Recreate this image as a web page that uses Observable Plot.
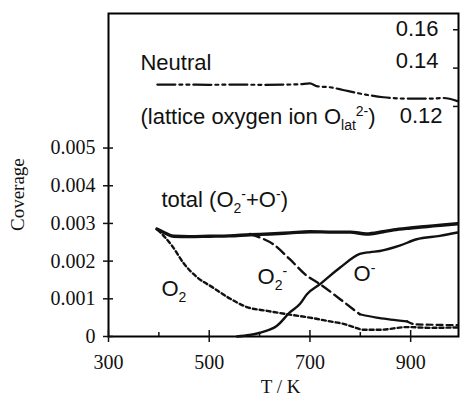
<!DOCTYPE html>
<html>
<head>
<meta charset="utf-8">
<script src="https://cdn.jsdelivr.net/npm/d3@7"></script>
<script src="https://cdn.jsdelivr.net/npm/@observablehq/plot@0.6"></script>
<style>
  html, body { margin: 0; padding: 0; background: #fff; }
</style>
</head>
<body>
<div id="chart"></div>
<script>
// ---- data ----
const totalT = [396, 410, 429, 460, 500, 540, 581, 620, 660, 700, 746, 780, 812, 845, 866, 900, 933, 965, 993];
const totalC = [0.00285, 0.00276, 0.00266, 0.00265, 0.00266, 0.00267, 0.00270, 0.00272, 0.00275, 0.00278, 0.00277, 0.00277, 0.00272, 0.00278, 0.00283, 0.00288, 0.00292, 0.00296, 0.00299];

const o2T = [398, 426, 450, 476, 506, 542, 575, 615, 660, 700, 740, 765, 787, 806, 840, 893, 939, 993];
const o2C = [0.00283, 0.00241, 0.00193, 0.00157, 0.00131, 0.00100, 0.00078, 0.00068, 0.00058, 0.00050, 0.00040, 0.00034, 0.00025, 0.00018, 0.00018, 0.00025, 0.00023, 0.00024];

const o2mT = [581, 600, 627, 660, 694, 720, 760, 799, 832, 860, 893, 910, 950, 993];
const o2mC = [0.00272, 0.00263, 0.00245, 0.00205, 0.00161, 0.00139, 0.00099, 0.00059, 0.00050, 0.00045, 0.00040, 0.00032, 0.00031, 0.00030];

const omT = [555, 580, 601, 620, 634, 660, 680, 694, 720, 760, 799, 820, 839, 878, 912, 958, 993];
const omC = [0.00000, 0.00004, 0.00010, 0.00018, 0.00028, 0.00064, 0.00086, 0.00112, 0.00139, 0.00183, 0.00219, 0.00224, 0.00227, 0.00241, 0.00258, 0.00267, 0.00276];

// Neutral (lattice oxygen) on the right-hand axis
const neutralT = [397, 450, 500, 550, 600, 650, 680, 700, 715, 740, 766, 790, 810, 846, 893, 939, 965, 993];
const neutralR = [0.1314, 0.1314, 0.1313, 0.1314, 0.1313, 0.1314, 0.1316, 0.1320, 0.1305, 0.1300, 0.1286, 0.1272, 0.1262, 0.1248, 0.1241, 0.1241, 0.1244, 0.1228];

const xTicksMajor = [300, 500, 700, 900];
const xTicksMinor = [400, 600, 800];
const xTickLabels = ["300", "500", "700", "900"];
const yTicks = [0, 0.001, 0.002, 0.003, 0.004, 0.005];
const yTickLabels = ["0", "0.001", "0.002", "0.003", "0.004", "0.005"];
const rightTicks = [0.16, 0.14, 0.12];
const rightTickLabels = ["0.16", "0.14", "0.12"];

// annotation labels: text, anchor temperature, anchor coverage
const labelText = ["Neutral", "(lattice oxygen ion O_{lat}^{2-})", "total (O_{2}^{-}+O^{-})", "O_{2}", "O_{2}^{-}", "O^{-}"];
const labelT = [363.5, 363.5, 405, 405, 596, 786.5];
const labelC = [0.00726, 0.00583, 0.00361, 0.00127, 0.00158, 0.00166];

// ---- helpers ----
const RIGHT_FACTOR = 19.66; // right-axis value -> left-axis coverage
const toLeft = r => r / RIGHT_FACTOR;
const zip = (xs, ys) => xs.map((x, i) => ({T: x, c: ys[i]}));

const total = zip(totalT, totalC);
const o2 = zip(o2T, o2C);
const o2m = zip(o2mT, o2mC);
const om = zip(omT, omC);
const neutral = neutralT.map((t, i) => ({T: t, c: toLeft(neutralR[i])}));
const labels = labelText.map((s, i) => ({s, T: labelT[i], c: labelC[i]}));

const SERIF = "Liberation Serif, DejaVu Serif, serif";
const SANS = "Liberation Sans, Arial, sans-serif";

const rightLabelDy = [-1, -7, 10];
const rightLabelDx = [-20, -20, -16];

const marks = [
  Plot.frame({stroke: "black", strokeWidth: 2}),
  // left axis (cross ticks)
  Plot.axisY(yTicks, {anchor: "left", tickSize: 5, tickPadding: 8, strokeWidth: 1.5,
    tickFormat: d => yTickLabels[yTicks.indexOf(d)], fontSize: 20, fontFamily: SERIF, fill: "#111", label: null}),
  Plot.axisY(yTicks, {anchor: "left", tickSize: -5, strokeWidth: 1.5, tickFormat: () => "", label: null}),
  // bottom axis
  Plot.axisX(xTicksMajor, {anchor: "bottom", tickSize: 6, tickPadding: 12, strokeWidth: 1.5,
    tickFormat: d => xTickLabels[xTicksMajor.indexOf(d)], fontSize: 20, fontFamily: SERIF, fill: "#111", label: null}),
  Plot.axisX(xTicksMajor, {anchor: "bottom", tickSize: -6, strokeWidth: 1.5, tickFormat: () => "", label: null}),
  Plot.axisX(xTicksMinor, {anchor: "bottom", tickSize: -4, strokeWidth: 1.5, tickFormat: () => "", label: null}),
  // right axis ticks (inward)
  Plot.axisY(rightTicks.map(toLeft), {anchor: "right", tickSize: -6, strokeWidth: 1.5, tickFormat: () => "", label: null}),
  // axis titles
  Plot.text(["Coverage"], {frameAnchor: "left", rotate: -90, dx: -91, dy: 56, fontSize: 19, fontFamily: SERIF, fill: "#111"}),
  Plot.text(["T / K"], {frameAnchor: "bottom", dx: -3, dy: 56, fontSize: 19, fontFamily: SERIF, fill: "#111"}),
  // curves
  Plot.line(neutral, {x: "T", y: "c", stroke: "#111", strokeWidth: 2.2, strokeDasharray: "18,4,3,4,3,4", curve: "monotone-x"}),
  Plot.line(o2, {x: "T", y: "c", stroke: "#111", strokeWidth: 2.4, strokeDasharray: "4,3", curve: "monotone-x"}),
  Plot.line(o2m.filter(d => d.T <= 799), {x: "T", y: "c", stroke: "#111", strokeWidth: 2.4, strokeDasharray: "10,5", curve: "monotone-x"}),
  Plot.line(o2m.filter(d => d.T >= 799 && d.T <= 893), {x: "T", y: "c", stroke: "#111", strokeWidth: 2.2, curve: "monotone-x"}),
  Plot.line(o2m.filter(d => d.T >= 893), {x: "T", y: "c", stroke: "#111", strokeWidth: 2.2, strokeDasharray: "6,4", curve: "monotone-x"}),
  Plot.line(om, {x: "T", y: "c", stroke: "#111", strokeWidth: 2.4, curve: "monotone-x"}),
  Plot.line(total, {x: "T", y: "c", stroke: "#111", strokeWidth: 3.4, curve: "monotone-x"}),
  // annotations
  Plot.text(labels, {x: "T", y: "c", text: "s", textAnchor: "start", fontSize: 22, fontFamily: SANS, fill: "#111"})
];

// right-axis tick labels (placed inside the frame)
rightTicks.forEach((r, i) => {
  marks.push(Plot.text([r], {y: d => toLeft(d), text: () => rightTickLabels[i], frameAnchor: "right",
    dx: rightLabelDx[i], dy: rightLabelDy[i], textAnchor: "end", fontSize: 22, fontFamily: SANS, fill: "#111"}));
});

const plot = Plot.plot({
  width: 460,
  height: 399,
  marginLeft: 108,
  marginRight: 2,
  marginTop: 13,
  marginBottom: 63,
  style: {background: "#fff", color: "#111", overflow: "visible"},
  x: {domain: [300, 995]},
  y: {domain: [0, 0.00857]},
  marks
});

// convert _{..} / ^{..} markup to real sub/superscript tspans
d3.select(plot).selectAll("text").each(function () {
  const t = this.textContent;
  if (!/[_^]\{/.test(t)) return;
  const re = /([_^])\{([^}]*)\}|([^_^]+)/g;
  const parts = [];
  let m;
  while ((m = re.exec(t))) {
    if (m[3] !== undefined) parts.push({kind: "n", s: m[3]});
    else parts.push({kind: m[1] === "_" ? "sub" : "sup", s: m[2]});
  }
  this.textContent = "";
  let shift = 0;
  for (const p of parts) {
    const target = p.kind === "sub" ? 6 : p.kind === "sup" ? -8 : 0;
    const ts = d3.select(this).append("tspan").text(p.s);
    if (target !== shift) ts.attr("dy", target - shift);
    if (p.kind !== "n") ts.attr("font-size", 14);
    shift = target;
  }
});

document.getElementById("chart").appendChild(plot);
</script>
</body>
</html>
